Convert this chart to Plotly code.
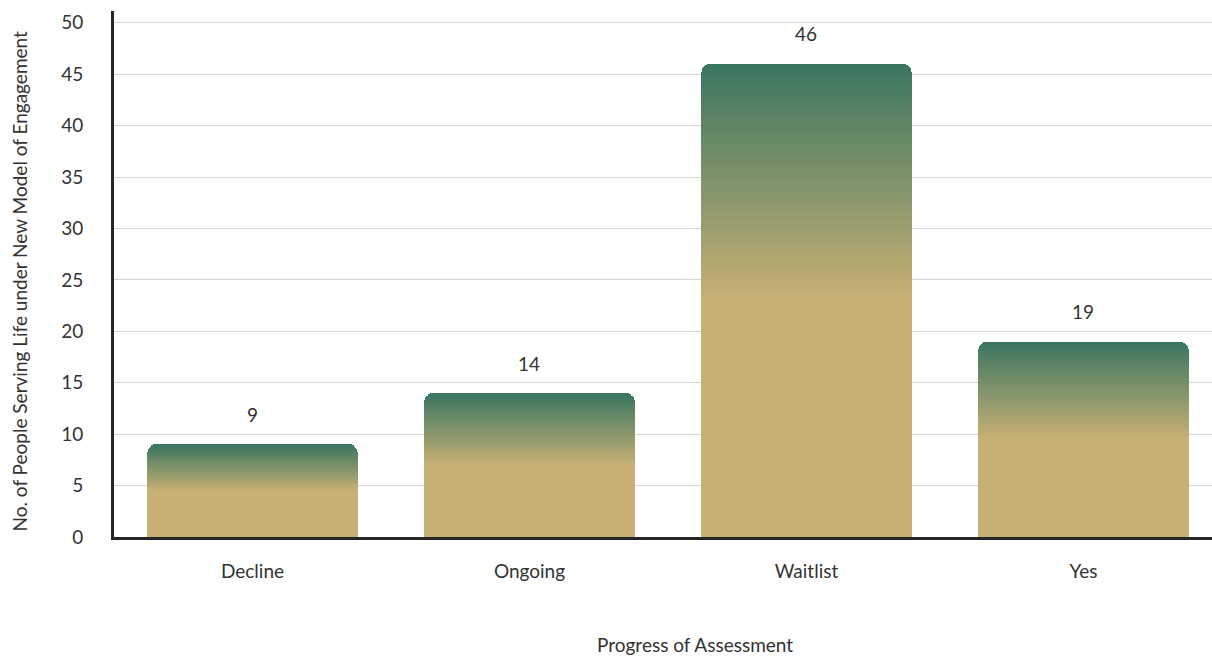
import plotly.graph_objects as go

# Data
categories = ["Decline", "Ongoing", "Waitlist", "Yes"]
values = [9, 14, 46, 19]
y_ticks = [0, 5, 10, 15, 20, 25, 30, 35, 40, 45, 50]

# Gradient: dark green at the bar top fading to tan by mid-height
TOP = (58, 118, 96)
BOTTOM = (200, 176, 116)
SOLID_PART = 0.5      # lower share of each bar that is plain tan
N_STEPS = 48          # gradient slices in the upper share


def mix(t):
    r = [round(BOTTOM[i] + (TOP[i] - BOTTOM[i]) * t) for i in range(3)]
    return f"rgb({r[0]},{r[1]},{r[2]})"


fig = go.Figure()

# plain lower segment
fig.add_trace(go.Bar(
    x=categories, y=[v * SOLID_PART for v in values],
    marker=dict(color=mix(0), line=dict(width=0)),
    hoverinfo="skip", showlegend=False,
))
# stacked gradient slices
step = (1 - SOLID_PART) / N_STEPS
for k in range(N_STEPS):
    t = (k + 0.5) / N_STEPS
    fig.add_trace(go.Bar(
        x=categories, y=[v * step for v in values],
        marker=dict(color=mix(t), line=dict(width=0)),
        hoverinfo="skip", showlegend=False,
    ))

font_family = "Lato, 'Open Sans', sans-serif"
text_color = "#333333"

# value labels above the bars
for c, v in zip(categories, values):
    fig.add_annotation(
        x=c, y=v, text=str(v), showarrow=False, yshift=30,
        font=dict(family=font_family, size=19, color=text_color),
    )

# axis titles
fig.add_annotation(
    xref="paper", yref="paper", x=(695 - 114) / 1098, y=-0.205,
    text="Progress of Assessment", showarrow=False, yanchor="middle",
    font=dict(family=font_family, size=19, color=text_color),
)
fig.add_annotation(
    xref="paper", yref="paper", x=-0.086, y=0.485, textangle=-90,
    text="No. of People Serving Life under New Model of Engagement",
    showarrow=False, xanchor="center", yanchor="middle",
    font=dict(family=font_family, size=19, color=text_color),
)

fig.update_layout(
    width=1212, height=660,
    margin=dict(l=114, r=0, t=11, b=123),
    barmode="stack", bargap=0.24, barcornerradius=9,
    plot_bgcolor="white", paper_bgcolor="white",
    font=dict(family=font_family, size=19, color=text_color),
    xaxis=dict(
        range=[-0.5, 3.464], showgrid=False, showline=True,
        linecolor="#262626", linewidth=3, ticks="", tickfont=dict(size=19),
        ticklabelstandoff=15,
    ),
    yaxis=dict(
        range=[0, 51.15], tickvals=y_ticks, showgrid=True,
        gridcolor="#d4d4d4", gridwidth=1, showline=True,
        linecolor="#262626", linewidth=3, ticks="", zeroline=False,
        tickfont=dict(size=19), ticklabelstandoff=24,
    ),
)

fig.write_html("out.html")
